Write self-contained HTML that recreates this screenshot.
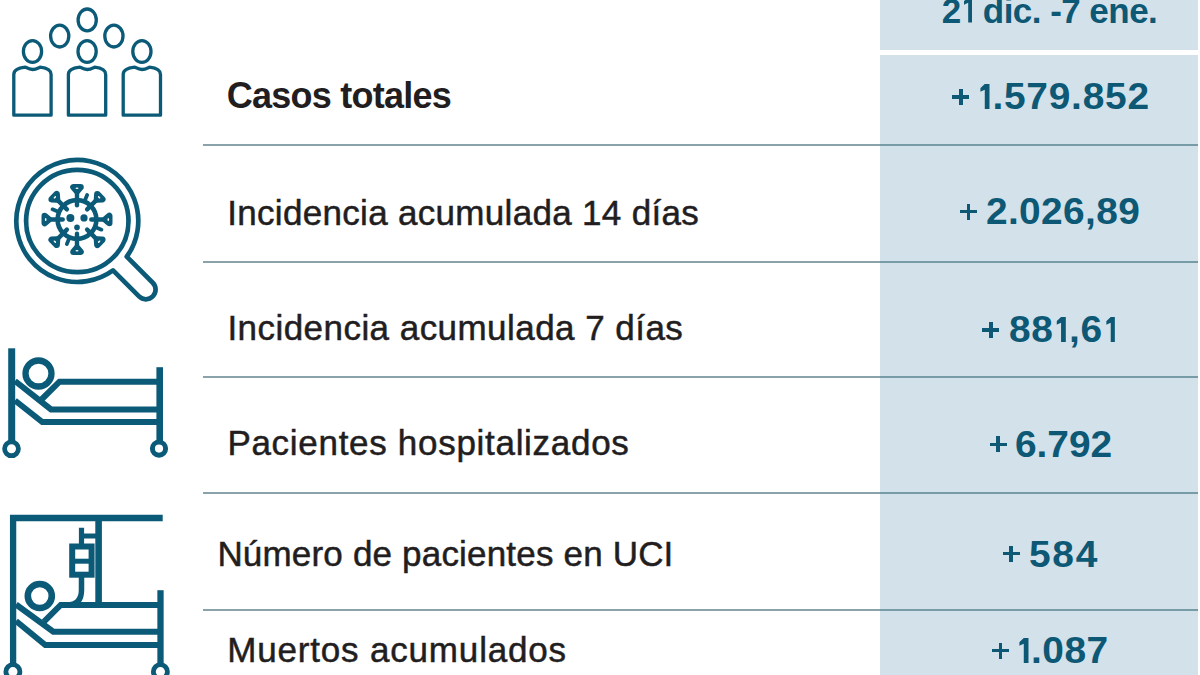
<!DOCTYPE html>
<html>
<head>
<meta charset="utf-8">
<style>
html,body{margin:0;padding:0;background:#ffffff;}
body{width:1200px;height:675px;position:relative;overflow:hidden;font-family:"Liberation Sans",sans-serif;}
.col{position:absolute;left:880px;width:318px;background:#d3e1ea;}
.ln{position:absolute;left:203px;width:995px;height:2px;background:#8aa3ab;}
.t{position:absolute;font-size:35px;line-height:36px;height:36px;white-space:nowrap;color:#221e1f;-webkit-text-stroke:0.5px #221e1f;}
.t.b{font-size:36px;-webkit-text-stroke:0;}
.b{font-weight:700;}
.n{position:absolute;font-size:36px;line-height:36px;height:36px;white-space:nowrap;color:#0d5874;font-weight:700;}
.nx{transform:scaleX(1.08);transform-origin:0 0;}
.ic{position:absolute;left:0;top:0;}
.one{display:inline-block;vertical-align:baseline;}
.ph{position:absolute;width:17px;height:3.5px;background:#0d5874;}
.pv{position:absolute;width:3.5px;height:16px;background:#0d5874;}
</style>
</head>
<body>
<div class="col" style="top:0;height:50px"></div>
<div class="col" style="top:55px;height:620px"></div>
<div class="ln" style="top:144px"></div><div class="ln" style="top:144px;left:880px;width:318px;background:#789ca7"></div>
<div class="ln" style="top:261px"></div><div class="ln" style="top:261px;left:880px;width:318px;background:#789ca7"></div>
<div class="ln" style="top:376px"></div><div class="ln" style="top:376px;left:880px;width:318px;background:#789ca7"></div>
<div class="ln" style="top:492px"></div><div class="ln" style="top:492px;left:880px;width:318px;background:#789ca7"></div>
<div class="ln" style="top:609px"></div><div class="ln" style="top:609px;left:880px;width:318px;background:#789ca7"></div>
<div class="t b" style="left:226.8px;top:78.0px;letter-spacing:-0.754px">Casos totales</div>
<div class="t" style="left:227.2px;top:194.5px;letter-spacing:0.314px">Incidencia acumulada 14 días</div>
<div class="t" style="left:227.4px;top:310.0px;letter-spacing:0.454px">Incidencia acumulada 7 días</div>
<div class="t" style="left:227.4px;top:425.0px;letter-spacing:0.703px">Pacientes hospitalizados</div>
<div class="t" style="left:217.4px;top:536.0px;letter-spacing:0.184px">Número de pacientes en UCI</div>
<div class="t" style="left:227.2px;top:632.0px;letter-spacing:0.827px">Muertos acumulados</div>
<div class="n" style="left:941.7px;top:-7.5px;font-size:35px;letter-spacing:-0.543px">2<span style="margin-left:3.0px"></span><span class="os" style="letter-spacing:0"><svg class="one" width="8.6" height="25.5" viewBox="0 0 8.6 25.5"><path d="M4.199999999999999,0 H8.6 V25.5 H4.199999999999999 V5.7 L0,7.800000000000001 V4.2 Z" fill="#0d5874"/></svg></span><span style="margin-left:1.4569999999999999px"></span> dic. -7 ene.</div>
<div class="n nx" style="left:976.5px;top:79px;letter-spacing:0.694px"><span style="margin-left:3.0px"></span><span class="os" style="letter-spacing:0"><svg class="one" width="8.6" height="25.5" viewBox="0 0 8.6 25.5"><path d="M4.199999999999999,0 H8.6 V25.5 H4.199999999999999 V5.7 L0,7.800000000000001 V4.2 Z" fill="#0d5874"/></svg></span><span style="margin-left:2.694px"></span>.579.852</div>
<div class="n nx" style="left:986.0px;top:194px;letter-spacing:0.319px">2.026,89</div>
<div class="n nx" style="left:1009.3px;top:312px;letter-spacing:0.63px">88<span style="margin-left:3.0px"></span><span class="os" style="letter-spacing:0"><svg class="one" width="8.6" height="25.5" viewBox="0 0 8.6 25.5"><path d="M4.199999999999999,0 H8.6 V25.5 H4.199999999999999 V5.7 L0,7.800000000000001 V4.2 Z" fill="#0d5874"/></svg></span><span style="margin-left:2.63px"></span>,6<span style="margin-left:3.0px"></span><span class="os" style="letter-spacing:0"><svg class="one" width="8.6" height="25.5" viewBox="0 0 8.6 25.5"><path d="M4.199999999999999,0 H8.6 V25.5 H4.199999999999999 V5.7 L0,7.800000000000001 V4.2 Z" fill="#0d5874"/></svg></span><span style="margin-left:2.63px"></span></div>
<div class="n nx" style="left:1014.7px;top:427px;letter-spacing:-0.05px">6.792</div>
<div class="n nx" style="left:1028.9px;top:536.5px;letter-spacing:1.577px">584</div>
<div class="n nx" style="left:1016.4px;top:633px;letter-spacing:0.418px"><span style="margin-left:3.0px"></span><span class="os" style="letter-spacing:0"><svg class="one" width="8.6" height="25.5" viewBox="0 0 8.6 25.5"><path d="M4.199999999999999,0 H8.6 V25.5 H4.199999999999999 V5.7 L0,7.800000000000001 V4.2 Z" fill="#0d5874"/></svg></span><span style="margin-left:2.418px"></span>.087</div>
<div class="ph" style="left:952.3px;top:95.35px"></div><div class="pv" style="left:959.05px;top:89.1px"></div>
<div class="ph" style="left:960px;top:209.95px"></div><div class="pv" style="left:966.75px;top:203.7px"></div>
<div class="ph" style="left:982.4px;top:328.15px"></div><div class="pv" style="left:989.15px;top:321.9px"></div>
<div class="ph" style="left:989.7px;top:442.55px"></div><div class="pv" style="left:996.45px;top:436.3px"></div>
<div class="ph" style="left:1002.7px;top:551.95px"></div><div class="pv" style="left:1009.45px;top:545.7px"></div>
<div class="ph" style="left:991.8px;top:648.95px"></div><div class="pv" style="left:998.55px;top:642.7px"></div>
<svg class="ic" width="200" height="675" viewBox="0 0 200 675" fill="none" stroke="#0b5a78">
  <!-- people -->
  <g stroke-width="3.3">
    <ellipse cx="59.7" cy="36.1" rx="9.1" ry="10.9"/>
    <ellipse cx="87.2" cy="19.9" rx="9.1" ry="10.9"/>
    <ellipse cx="113.9" cy="36.1" rx="9.1" ry="10.9"/>
    <g id="person">
      <ellipse cx="32.5" cy="51.5" rx="9.1" ry="10.9"/>
      <path d="M13.8,115.2 V74.5 C13.8,70 18,68 25.3,67.2 C28,68.5 30,69.5 32.6,69.5 C35.2,69.5 37.2,68.5 40,67.2 C47,68 51.1,70 51.1,74.5 V115.2 Z" stroke-linejoin="round"/>
    </g>
    <use href="#person" x="54.6"/>
    <use href="#person" x="109.4"/>
  </g>
  <!-- magnifier -->
  <g transform="translate(77.3,221) rotate(45)" stroke-width="4.7">
    <path d="M60.2,-9.7 L97,-9.7 A9.7,9.7 0 0 1 97,9.7 L60.2,9.7 A61,61 0 1 1 60.2,-9.7 Z" stroke-linejoin="round"/>
    <circle cx="0" cy="0" r="51.2"/>
  </g>
  <!-- virus -->
  <g transform="translate(77,219.5)" stroke-linecap="round" stroke-linejoin="round">
    <circle cx="0" cy="0" r="19.4" stroke-width="4.6"/>
    <g id="spk">
      <path d="M0,-14.3 V-27" stroke-width="4.4"/>
      <path d="M-3.6,-32.3 L3.6,-32.3 L0,-28.2 Z" stroke-width="6.4" fill="#0b5a78"/>
      <ellipse cx="0" cy="-31.3" rx="1.5" ry="0.8" fill="#ffffff" stroke="none"/>
    </g>
    <use href="#spk" transform="rotate(45)"/>
    <use href="#spk" transform="rotate(90)"/>
    <use href="#spk" transform="rotate(135)"/>
    <use href="#spk" transform="rotate(180)"/>
    <use href="#spk" transform="rotate(225)"/>
    <use href="#spk" transform="rotate(270)"/>
    <use href="#spk" transform="rotate(315)"/>
    <g stroke-width="3.8">
      <path id="stub" d="M0,-21.5 V-26.5" transform="rotate(22.5)"/>
      <use href="#stub" transform="rotate(90)"/>
      <use href="#stub" transform="rotate(180)"/>
      <use href="#stub" transform="rotate(270)"/>
    </g>
    <circle cx="-6.6" cy="-1.6" r="4" fill="#0b5a78" stroke="none"/>
    <circle cx="7" cy="-1.6" r="3.6" fill="#0b5a78" stroke="none"/>
    <circle cx="0" cy="7.9" r="2.8" fill="#0b5a78" stroke="none"/>
  </g>
  <!-- bed -->
  <g stroke-width="6">
    <path d="M11.7,348.3 V441" stroke-width="7"/>
    <circle cx="11.5" cy="448.8" r="6.9" stroke-width="4.8"/>
    <path d="M159.7,367.2 V441" stroke-width="6.6"/>
    <circle cx="159" cy="448.6" r="6.6" stroke-width="5"/>
    <circle cx="38.5" cy="373.5" r="13" stroke-width="6.3"/>
    <path d="M40,401 L59.5,381.7 H159.7"/>
    <path d="M15,381 L51,409.4 H159.7"/>
    <path d="M15,400.5 L42.3,422 H159.7"/>
  </g>
  <!-- icu -->
  <g stroke-width="6">
    <path d="M13.1,663 V518 H162.7" stroke-width="6.3"/>
    <circle cx="12.9" cy="671.7" r="7" stroke-width="4.8"/>
    <path d="M98.6,518 V605" stroke-width="6.6"/>
    <path d="M81.5,527.8 V544 M81.5,536 H98.6" stroke-width="5.2"/>
    <rect x="72.2" y="546.5" width="19.4" height="28.2" stroke-width="6"/>
    <path d="M72.2,561.2 H91.6" stroke-width="5"/>
    <path d="M81.5,577 V590 Q81.5,605 67,605" stroke-width="5.5"/>
    <path d="M44,621.7 L60.7,605 H160.5"/>
    <circle cx="39.8" cy="596" r="12" stroke-width="6.6"/>
    <path d="M16,604.5 L53.3,631.7 H160.5"/>
    <path d="M16,621 L45.3,645 H160.5"/>
    <path d="M160.5,590.2 V664" stroke-width="6.3"/>
    <circle cx="160.4" cy="671.7" r="7" stroke-width="4.8"/>
  </g>
</svg>
</body>
</html>
